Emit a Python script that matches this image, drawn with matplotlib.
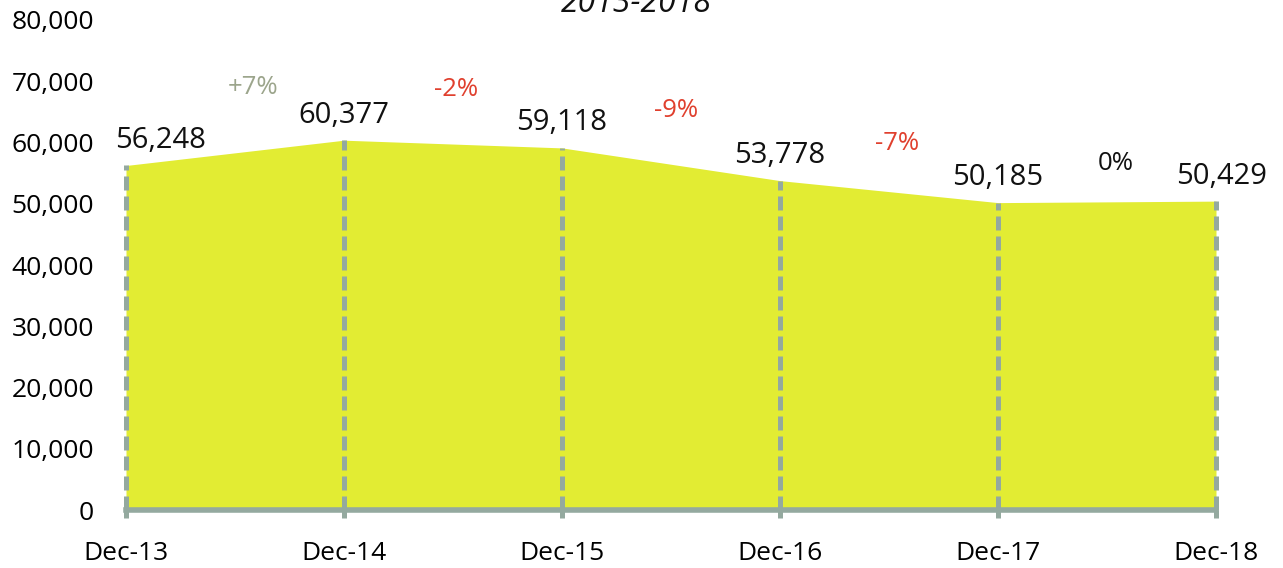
import matplotlib.pyplot as plt

plt.rcParams['font.family'] = ['Open Sans', 'DejaVu Sans']

periods = ['Dec-13', 'Dec-14', 'Dec-15', 'Dec-16', 'Dec-17', 'Dec-18']
values = [56248, 60377, 59118, 53778, 50185, 50429]
changes = ['+7%', '-2%', '-9%', '-7%', '0%']
change_colors = ['#9ca58c', '#e0402e', '#e0402e', '#e0402e', '#111111']
change_heights = [68900, 68600, 65300, 59800, 56500]

fill_color = '#e2ec33'
grid_color = '#94a99f'

fig = plt.figure(figsize=(12.83, 5.68), dpi=100)
ax = fig.add_axes([126 / 1283, 1 - 510 / 568, 1090 / 1283, 490 / 568])

x = list(range(len(values)))
ax.fill_between(x, 0, values, color=fill_color, linewidth=0, zorder=1)
ax.vlines(x, 0, values, colors=grid_color, linestyles=(0, (2.8, 1.2)),
          linewidth=3.6, zorder=2, clip_on=False)

ax.set_xlim(0, len(values) - 1)
ax.set_ylim(0, 80000)
ax.set_xticks(x)
ax.set_xticklabels(periods, fontsize=19)
ax.set_yticks(range(0, 80001, 10000))
ax.set_yticklabels([f'{v:,}' for v in range(0, 80001, 10000)], fontsize=19)
ax.tick_params(axis='x', length=6, width=3.6, color=grid_color, pad=16)
ax.tick_params(axis='y', length=0, pad=23)
for side in ['top', 'right', 'left']:
    ax.spines[side].set_visible(False)
ax.spines['bottom'].set_color(grid_color)
ax.spines['bottom'].set_linewidth(4)
ax.spines['bottom'].set_zorder(3)

label_dx = [25, 0, 0, 0, 0, 4]
for i, v in enumerate(values):
    ax.annotate(f'{v:,}', (i, v), xytext=(label_dx[i], 18),
                textcoords='offset points', ha='center', va='center',
                fontsize=21, color='#111111', annotation_clip=False)

change_dx = [13, 2, 4, 6, 6]
for i, (c, col, h) in enumerate(zip(changes, change_colors, change_heights)):
    ax.annotate(c, (i + 0.5, h), xytext=(change_dx[i], 0),
                textcoords='offset points', ha='center', va='center',
                fontsize=18.5, color=col, annotation_clip=False)

fig.text(636 / 1283, 1 - 3 / 568, '2013-2018', ha='center', va='center',
         fontsize=23, style='italic', color='#111111')

fig.savefig('out.png', dpi=100)
